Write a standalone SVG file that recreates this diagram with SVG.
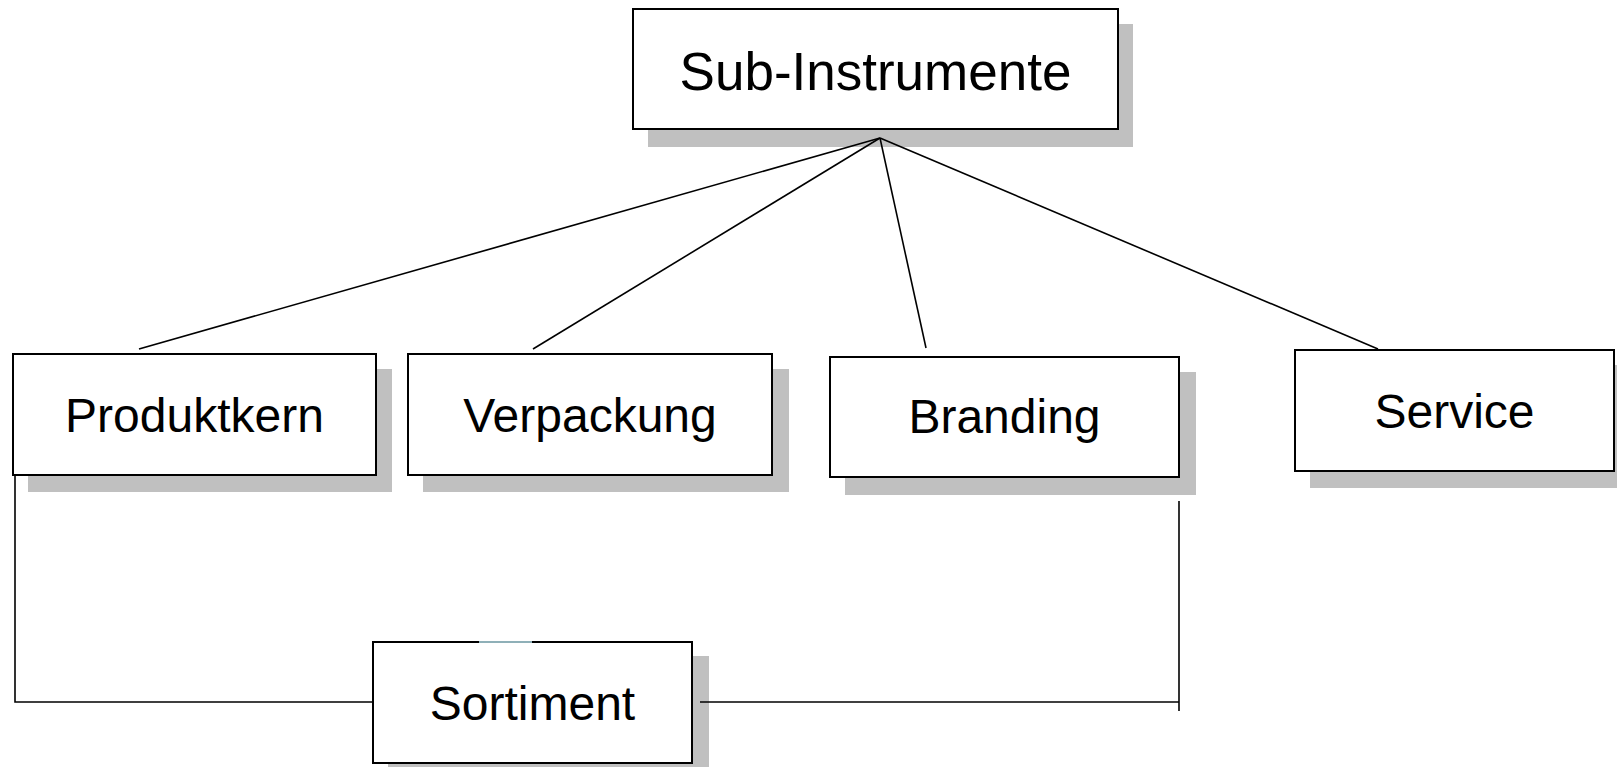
<svg xmlns="http://www.w3.org/2000/svg" width="1617" height="767" viewBox="0 0 1617 767">
<style>
.shadow{fill:#c0c0c0;stroke:none}
.box{fill:#ffffff;stroke:#000000;stroke-width:2}
.lbl{font-family:"Liberation Sans",Arial,sans-serif;font-size:48px;fill:#000000;text-anchor:middle}
.conn{stroke:#000000;stroke-width:1.6;fill:none}
</style>
<rect width="1617" height="767" fill="#ffffff"/>
<g id="sub-instrumente">
<rect class="shadow" x="648" y="24" width="485" height="123"/>
<rect class="box" x="633" y="9" width="485" height="120"/>
<text class="lbl" x="875.5" y="90" style="font-size:53px">Sub-Instrumente</text>
</g>
<g id="produktkern">
<rect class="shadow" x="28" y="369" width="364" height="123"/>
<rect class="box" x="13" y="354" width="363" height="121"/>
<text class="lbl" x="194.5" y="432">Produktkern</text>
</g>
<g id="verpackung">
<rect class="shadow" x="423" y="369" width="366" height="123"/>
<rect class="box" x="408" y="354" width="364" height="121"/>
<text class="lbl" x="590" y="432">Verpackung</text>
</g>
<g id="branding">
<rect class="shadow" x="845" y="372" width="351" height="123"/>
<rect class="box" x="830" y="357" width="349" height="120"/>
<text class="lbl" x="1004.5" y="433">Branding</text>
</g>
<g id="service">
<rect class="shadow" x="1310" y="365" width="307" height="123"/>
<rect class="box" x="1295" y="350" width="319" height="121"/>
<text class="lbl" x="1454.5" y="428">Service</text>
</g>
<g id="sortiment">
<rect class="shadow" x="388" y="656" width="321" height="120"/>
<rect class="box" x="373" y="642" width="319" height="121"/>
<line x1="479" y1="642" x2="532" y2="642" stroke="#8fb0b8" stroke-width="2"/>
<text class="lbl" x="532.5" y="720">Sortiment</text>
</g>
<g id="connectors">
<line class="conn" x1="880" y1="138" x2="139" y2="349"/>
<line class="conn" x1="880" y1="138" x2="533" y2="349"/>
<line class="conn" x1="880" y1="138" x2="926" y2="348"/>
<line class="conn" x1="880" y1="138" x2="1378" y2="349"/>
<polyline class="conn" points="15,475 15,702 373,702"/>
<polyline class="conn" points="700,702 1179,702"/>
<line class="conn" x1="1179" y1="501" x2="1179" y2="711"/>
</g>
</svg>
